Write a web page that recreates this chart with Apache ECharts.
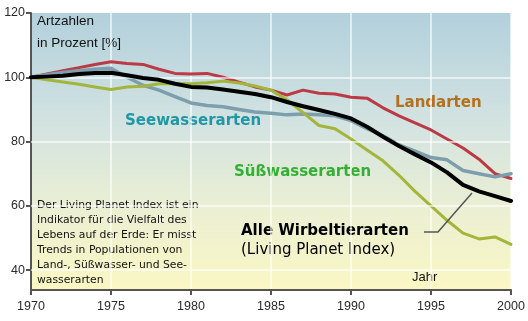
<!DOCTYPE html>
<html><head><meta charset="utf-8">
<script src="https://cdn.jsdelivr.net/npm/echarts@6/dist/echarts.min.js"></script>
<style>html,body{margin:0;padding:0;background:#fff}#c{width:528px;height:321px}</style>
</head><body><div id="c"></div>
<script>
const years = [1970,1971,1972,1973,1974,1975,1976,1977,1978,1979,1980,1981,1982,1983,1984,1985,1986,1987,1988,1989,1990,1991,1992,1993,1994,1995,1996,1997,1998,1999,2000];
const landarten = [100,101,102,103,104,104.8,104.3,104,102.5,101.2,101,101.2,100,98.5,97,96,94.5,96,95,94.8,93.8,93.5,90.5,88,85.8,83.6,80.8,78,74.5,70,68.5];
const seewasserarten = [100,100.8,101.5,102,102.5,102.8,100,97.5,96,94,92,91.2,90.8,90,89.2,88.8,88.3,88.6,88.3,88,86.5,84,81.8,79,77,75,74.3,71,70,69,70];
const suesswasserarten = [100,99.2,98.5,97.8,97,96.2,97,97.2,98,98,98,98.3,98.8,98.2,97.3,96,93,89,85,84,80.8,77.4,74,69.5,64.5,60,55.5,51.5,49.7,50.3,48];
const alleArten = [100,100.2,100.5,101,101.3,101.4,100.6,99.8,99.2,98,97,96.8,96.2,95.5,94.8,93.8,92.3,91,89.8,88.6,87.2,84.6,81.5,78.6,76,73.5,70.4,66.5,64.5,63,61.5];
const yTicks = [40,60,80,100,120];
const yGridLines = [40,60,80,100];

const pair = arr => years.map((y,i)=>[y,arr[i]]);
const chart = echarts.init(document.getElementById('c'), null, {renderer:'canvas'});
const lineSeries = (name, data, color, w, z) => ({
  name, type:'line', data: pair(data), symbol:'none', smooth:false, z,
  lineStyle:{color, width:w, join:'round', cap:'round'}
});
chart.setOption({
  animation:false,
  grid:{left:31, right:17, top:13, bottom:31, show:true, borderWidth:0,
    backgroundColor:{type:'linear', x:0, y:0, x2:0, y2:1,
      colorStops:[{offset:0,color:'#b2d0dc'},{offset:0.4,color:'#d3e3e1'},{offset:0.72,color:'#ecf0d3'},{offset:1,color:'#faf7c3'}]}},
  xAxis:{type:'value', min:1970, max:2000, interval:5,
    axisLine:{show:true, lineStyle:{color:'#555', width:2}},
    axisTick:{show:true, length:5, lineStyle:{color:'#555', width:2}},
    axisLabel:{color:'#2a2a2a', fontFamily:'Liberation Sans, Arial', fontSize:12.5, margin:10, formatter: v => String(v)},
    splitLine:{show:true, lineStyle:{color:'rgba(255,255,255,0.8)', width:1.5}}},
  yAxis:{type:'value', min:33.8, max:120,
    axisLine:{show:true, lineStyle:{color:'#555', width:2}},
    axisTick:{show:true, length:5, customValues:yTicks, lineStyle:{color:'#555', width:2}},
    axisLabel:{color:'#2a2a2a', fontFamily:'Liberation Sans, Arial', fontSize:12.5, margin:6, customValues:yTicks, formatter: v => String(v)},
    splitLine:{show:false}},
  series:[
    {type:'line', data:[], silent:true, z:1,
      markLine:{silent:true, symbol:'none', label:{show:false},
        lineStyle:{color:'rgba(255,255,255,0.8)', width:1.5, type:'solid'},
        data: yGridLines.map(v=>({yAxis:v}))}},
    lineSeries('Landarten', landarten, '#bb3a45', 3, 2),
    lineSeries('Seewasserarten', seewasserarten, '#7d9fad', 3.5, 3),
    lineSeries('Süßwasserarten', suesswasserarten, '#a3b53a', 3, 4),
    lineSeries('Alle Wirbeltierarten', alleArten, '#000000', 4, 5)
  ],
  graphic:[
    {type:'text', left:37, top:10, style:{text:'Artzahlen\nin Prozent [%]', fill:'#111', font:'13.5px "Liberation Sans", Arial', lineHeight:22}},
    {type:'text', left:125, top:114, style:{text:'Seewasserarten', fill:'#1f97a6', font:'bold 15px "DejaVu Sans"'}},
    {type:'text', left:395, top:96, style:{text:'Landarten', fill:'#b3701f', font:'bold 15px "DejaVu Sans"'}},
    {type:'text', left:234, top:165, style:{text:'Süßwasserarten', fill:'#33b034', font:'bold 15px "DejaVu Sans"'}},
    {type:'text', left:241, top:224, style:{text:'Alle Wirbeltierarten', fill:'#000', font:'bold 15px "DejaVu Sans"'}},
    {type:'text', left:241, top:243, style:{text:'(Living Planet Index)', fill:'#000', font:'15px "DejaVu Sans"'}},
    {type:'text', left:37, top:198, style:{text:'Der Living Planet Index ist ein\nIndikator für die Vielfalt des\nLebens auf der Erde: Er misst\nTrends in Populationen von\nLand-, Süßwasser- und See-\nwasserarten', fill:'#111', font:'10.8px "DejaVu Sans"', lineHeight:15}},
    {type:'text', left:412, top:271, style:{text:'Jahr', fill:'#111', font:'13px "Liberation Sans", Arial'}},
    {type:'polyline', z:10, shape:{points:[[424,232],[438,232],[472,193]]}, style:{stroke:'#555', lineWidth:1.5, fill:null}}
  ]
});
</script></body></html>
